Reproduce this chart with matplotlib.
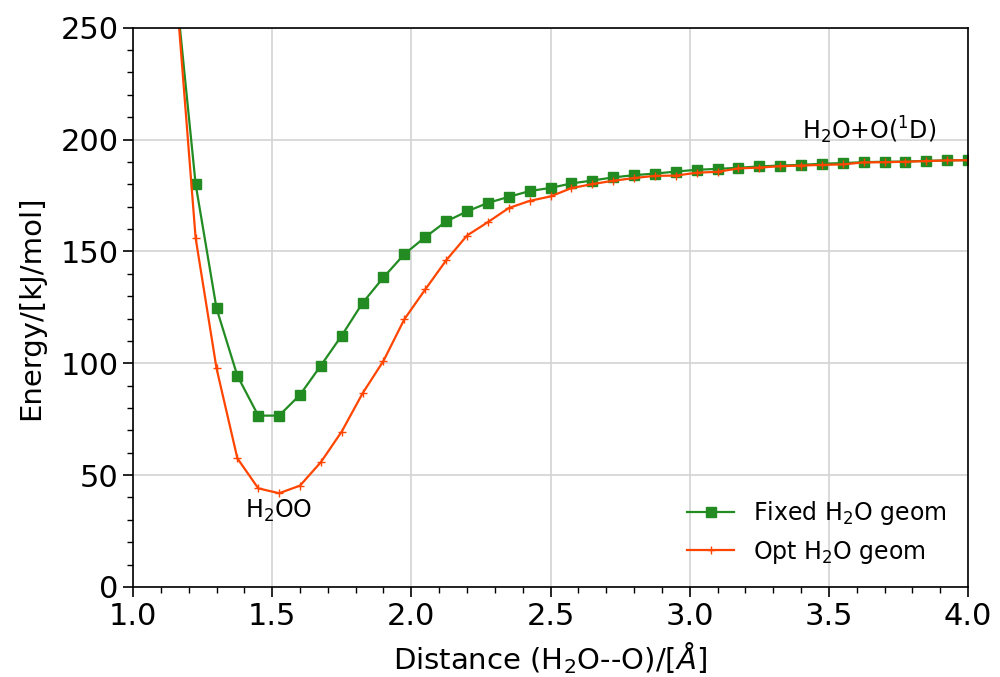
import matplotlib
matplotlib.use("Agg")
import matplotlib.pyplot as plt
from matplotlib.ticker import MultipleLocator

# distances in Angstrom, energies in kJ/mol
dist = [1.15, 1.225, 1.3, 1.375, 1.45, 1.525, 1.6, 1.675, 1.75, 1.825,
        1.9, 1.975, 2.05, 2.125, 2.2, 2.275, 2.35, 2.425, 2.5, 2.575,
        2.65, 2.725, 2.8, 2.875, 2.95, 3.025, 3.1, 3.175, 3.25, 3.325,
        3.4, 3.475, 3.55, 3.625, 3.7, 3.775, 3.85, 3.925, 4.0]

e_fixed = [273, 180.1, 124.6, 94.4, 76.6, 76.6, 85.9, 99.0, 112.4, 127.0,
           138.4, 148.8, 156.4, 163.4, 167.9, 171.7, 174.4, 177.0, 178.4, 180.4,
           181.7, 183.1, 184.1, 184.8, 185.7, 186.5, 186.9, 187.4, 188.0, 188.4,
           188.7, 189.2, 189.5, 189.9, 190.1, 190.2, 190.5, 190.7, 190.8]

e_opt = [275, 156.0, 97.8, 57.5, 44.1, 41.9, 45.3, 55.8, 69.5, 86.6,
         101.1, 119.7, 133.0, 146.0, 157.1, 163.1, 169.4, 172.6, 174.6, 178.3,
         180.1, 181.6, 182.8, 183.8, 183.9, 185.2, 185.6, 187.1, 187.5, 188.1,
         188.4, 188.7, 188.9, 189.8, 189.9, 190.1, 190.4, 190.7, 190.8]

fig = plt.figure(figsize=(10, 6.77), dpi=100)
ax = fig.add_axes([0.133, 0.133, 0.835, 0.826])

ax.plot(dist, e_fixed, color='forestgreen', marker='s', markersize=6.5,
        linewidth=1.6, label='Fixed H$_2$O geom')
ax.plot(dist, e_opt, color='orangered', marker='+', markersize=6,
        linewidth=1.6, label='Opt H$_2$O geom')

ax.text(1.523, 34, 'H$_2$OO', fontsize=17, ha='center', va='center')
ax.text(3.645, 204, 'H$_2$O+O($^1$D)', fontsize=17, ha='center', va='center')

ax.set_xlim(1.0, 4.0)
ax.set_ylim(0, 250)
ax.xaxis.set_major_locator(MultipleLocator(0.5))
ax.xaxis.set_minor_locator(MultipleLocator(0.1))
ax.yaxis.set_major_locator(MultipleLocator(50))
ax.yaxis.set_minor_locator(MultipleLocator(10))
ax.tick_params(axis='both', which='major', labelsize=22, length=7, width=1.2)
ax.tick_params(axis='both', which='minor', length=4, width=1)
for s in ax.spines.values():
    s.set_linewidth(1.2)

ax.grid(True, which='major', color='#d3d3d3', linewidth=1.2)
ax.set_axisbelow(True)

ax.set_xlabel('Distance (H$_2$O--O)/[$\\AA$]', fontsize=21, labelpad=7)
ax.set_ylabel('Energy/[kJ/mol]', fontsize=21, labelpad=11)

ax.legend(loc='lower right', frameon=False, fontsize=17)

fig.savefig('out.png', dpi=100)
